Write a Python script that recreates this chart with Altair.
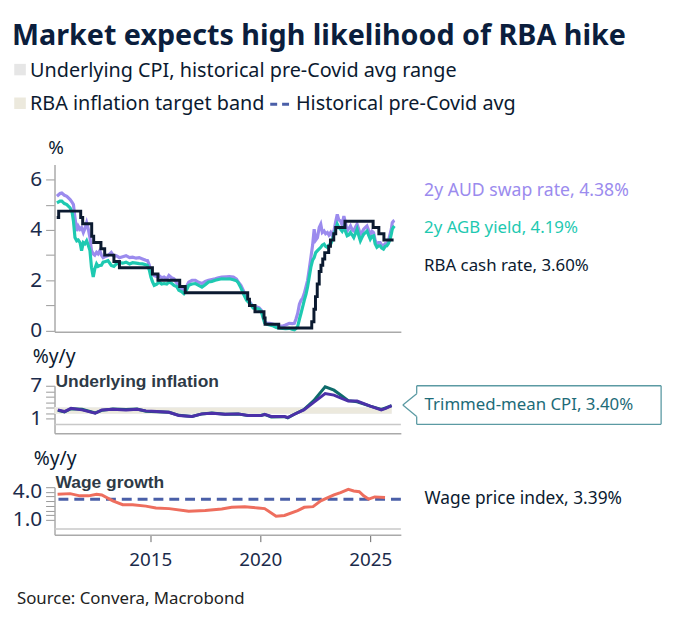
import altair as alt
import pandas as pd

FONT = "Noto Sans"
BOLD = "Liberation Sans"

TITLE = "Market expects high likelihood of RBA hike"
LEGEND_1 = "Underlying CPI, historical pre-Covid avg range"
LEGEND_2 = "RBA inflation target band"
LEGEND_3 = "Historical pre-Covid avg"
SOURCE = "Source: Convera, Macrobond"

X_DOMAIN = [2010.65, 2026.39]
X_TICKS = [2015, 2020, 2025]

# ---- top panel: rates (%) ----
rate_years = [2010.76, 2010.90, 2010.98, 2011.10, 2011.21, 2011.36, 2011.45, 2011.51, 2011.58, 2011.66,
              2011.73, 2011.81, 2011.88, 2011.96, 2012.03, 2012.11, 2012.18, 2012.26, 2012.33, 2012.41,
              2012.48, 2012.56, 2012.63, 2012.71, 2012.78, 2012.86, 2012.97, 2013.08, 2013.23, 2013.35,
              2013.46, 2013.60, 2013.75, 2013.90, 2014.06, 2014.20, 2014.36, 2014.50, 2014.65, 2014.80,
              2014.88, 2014.96, 2015.03, 2015.10, 2015.18, 2015.30, 2015.40, 2015.52, 2015.63, 2015.75,
              2015.85, 2015.97, 2016.08, 2016.20, 2016.30, 2016.42, 2016.53, 2016.65, 2016.75, 2016.90,
              2017.05, 2017.20, 2017.35, 2017.50, 2017.65, 2017.80, 2017.95, 2018.10, 2018.25, 2018.45,
              2018.60, 2018.78, 2018.92, 2019.00, 2019.12, 2019.23, 2019.38, 2019.53, 2019.68, 2019.83,
              2019.95, 2020.05, 2020.20, 2020.30, 2020.43, 2020.60, 2020.73, 2020.90, 2021.03, 2021.15,
              2021.32, 2021.45, 2021.55, 2021.62, 2021.70, 2021.78, 2021.85, 2021.93, 2022.00, 2022.08,
              2022.15, 2022.22, 2022.30, 2022.38, 2022.45, 2022.52, 2022.60, 2022.68, 2022.75, 2022.82,
              2022.90, 2022.97, 2023.05, 2023.12, 2023.20, 2023.28, 2023.35, 2023.42, 2023.50, 2023.57,
              2023.65, 2023.72, 2023.80, 2023.87, 2023.95, 2024.02, 2024.10, 2024.18, 2024.25, 2024.32,
              2024.40, 2024.47, 2024.55, 2024.62, 2024.70, 2024.78, 2024.85, 2024.92, 2025.00, 2025.08,
              2025.15, 2025.22, 2025.30, 2025.38, 2025.45, 2025.52, 2025.60, 2025.68, 2025.75, 2025.82,
              2025.90, 2025.96, 2026.00, 2026.06, 2026.10]
swap_2y = [5.34, 5.45, 5.47, 5.38, 5.34, 5.21, 5.10, 5.01, 4.49, 3.96,
           4.15, 4.03, 4.10, 3.90, 4.05, 4.29, 4.05, 3.70, 3.18, 3.05,
           3.00, 3.11, 3.05, 3.18, 3.00, 2.90, 2.95, 2.98, 3.11, 2.95,
           2.98, 2.90, 2.94, 2.98, 2.90, 2.92, 2.88, 2.90, 2.85, 2.80,
           2.78, 2.60, 2.32, 2.25, 2.19, 2.15, 2.19, 2.10, 2.13, 2.05,
           2.19, 2.10, 2.06, 1.90, 1.73, 1.65, 1.58, 1.75, 1.93, 2.00,
           2.00, 1.92, 1.87, 1.95, 2.00, 2.03, 2.06, 2.10, 2.13, 2.14,
           2.15, 2.13, 2.05, 1.93, 1.80, 1.60, 1.27, 1.14, 0.94, 0.94,
           0.90, 0.81, 0.35, 0.30, 0.29, 0.25, 0.22, 0.18, 0.18, 0.22,
           0.29, 0.28, 0.29, 0.45, 0.68, 1.05, 1.20, 1.30, 1.47, 1.75,
           1.99, 2.40, 2.90, 3.40, 4.03, 3.60, 3.70, 4.10, 4.23, 3.90,
           3.96, 3.85, 3.90, 3.80, 3.90, 3.75, 3.96, 4.30, 4.62, 4.40,
           4.36, 4.20, 4.55, 4.30, 3.96, 4.05, 4.16, 4.00, 3.96, 4.10,
           4.23, 4.05, 3.83, 3.90, 4.03, 4.10, 4.16, 4.00, 3.83, 3.95,
           3.90, 3.60, 3.44, 3.50, 3.50, 3.40, 3.37, 3.45, 3.44, 3.55,
           3.83, 4.05, 4.29, 4.36, 4.38]
agb_2y = [5.08, 5.15, 5.15, 5.05, 5.01, 4.88, 4.70, 4.36, 3.70, 3.57,
          3.60, 3.50, 3.18, 3.50, 3.45, 3.57, 3.40, 3.18, 2.52, 2.13,
          2.45, 2.65, 2.55, 2.59, 2.60, 2.72, 2.75, 2.78, 2.59, 2.55,
          2.65, 2.70, 2.68, 2.72, 2.65, 2.70, 2.68, 2.66, 2.65, 2.62,
          2.59, 2.40, 2.13, 1.95, 1.80, 1.85, 1.93, 1.85, 1.87, 1.85,
          1.93, 1.88, 1.80, 1.75, 1.60, 1.55, 1.47, 1.62, 1.80, 1.85,
          1.87, 1.80, 1.73, 1.82, 1.93, 1.95, 2.00, 2.03, 2.06, 2.05,
          2.06, 2.02, 1.98, 1.90, 1.70, 1.47, 1.20, 1.07, 0.90, 0.88,
          0.85, 0.75, 0.30, 0.25, 0.22, 0.18, 0.12, 0.10, 0.09, 0.08,
          0.09, 0.05, 0.03, 0.08, 0.16, 0.45, 0.68, 0.95, 1.20, 1.45,
          1.73, 2.10, 2.52, 2.80, 2.90, 3.10, 3.18, 3.25, 3.31, 3.40,
          3.44, 3.35, 3.31, 3.40, 3.44, 3.60, 3.83, 4.00, 4.23, 4.10,
          4.03, 3.95, 4.10, 3.95, 3.77, 3.80, 3.90, 3.80, 3.70, 3.85,
          4.03, 3.80, 3.57, 3.70, 3.83, 3.90, 3.96, 3.80, 3.63, 3.75,
          3.77, 3.45, 3.31, 3.37, 3.37, 3.28, 3.24, 3.35, 3.37, 3.45,
          3.63, 3.85, 4.03, 4.12, 4.16]

cash_years = [2010.75, 2010.84, 2011.84, 2011.93, 2012.34, 2012.43, 2012.76, 2012.93, 2013.35, 2013.60,
              2015.10, 2015.35, 2016.34, 2016.59, 2019.43, 2019.51, 2019.76, 2020.17, 2020.22, 2020.84,
              2022.34, 2022.44, 2022.51, 2022.59, 2022.68, 2022.76, 2022.84, 2022.93, 2023.11, 2023.19,
              2023.34, 2023.43, 2023.85, 2025.13, 2025.39, 2025.62, 2026.06]
cash_rate = [4.50, 4.75, 4.50, 4.25, 3.75, 3.50, 3.25, 3.00, 2.75, 2.50,
             2.25, 2.00, 1.75, 1.50, 1.25, 1.00, 0.75, 0.50, 0.25, 0.10,
             0.35, 0.85, 1.35, 1.85, 2.35, 2.60, 2.85, 3.10, 3.35, 3.60,
             3.85, 4.10, 4.35, 4.10, 3.85, 3.60, 3.60]

# ---- middle panel: underlying inflation (%y/y) ----
cpi_years = [2010.80, 2011.10, 2011.40, 2011.90, 2012.50, 2012.80, 2013.30, 2013.90, 2014.40, 2014.80,
             2015.30, 2015.85, 2016.30, 2016.90, 2017.35, 2017.80, 2018.40, 2019.00, 2019.45, 2020.05,
             2020.20, 2020.50, 2021.10, 2021.25, 2021.55, 2021.98, 2022.43, 2022.95, 2023.35, 2023.70,
             2024.00, 2024.40, 2025.00, 2025.50, 2025.70, 2025.97]
weighted_median = [2.63, 2.33, 2.92, 2.63, 2.02, 2.63, 2.74, 2.63, 2.74, 2.45,
                   2.35, 2.20, 1.61, 1.43, 1.91, 2.02, 1.84, 1.91, 1.61, 1.61,
                   1.84, 1.43, 1.43, 1.25, 1.84, 2.63, 4.00, 5.60, 5.31, 4.70,
                   4.24, 4.24, 3.30, 2.63, 2.92, 3.40]
trimmed_mean = [2.55, 2.25, 2.85, 2.75, 2.10, 2.55, 2.80, 2.70, 2.80, 2.40,
                2.30, 2.20, 1.65, 1.45, 1.90, 2.05, 1.85, 1.90, 1.60, 1.65,
                1.80, 1.35, 1.40, 1.20, 1.85, 2.70, 4.30, 6.80, 6.20, 5.20,
                4.30, 4.10, 3.30, 2.70, 3.00, 3.40]
TARGET_LO, TARGET_HI = 2.0, 3.0
PRECOVID_LO, PRECOVID_HI = 1.9, 3.15

# ---- bottom panel: wage growth (%y/y) ----
wage_years = [2010.79, 2011.36, 2011.80, 2012.20, 2012.56, 2012.80, 2013.30, 2013.75, 2014.20, 2014.80,
              2015.26, 2015.86, 2016.75, 2017.50, 2018.25, 2018.70, 2019.30, 2019.90, 2020.20, 2020.72,
              2021.10, 2021.70, 2022.00, 2022.40, 2022.75, 2023.35, 2023.65, 2024.00, 2024.25, 2024.50,
              2024.70, 2024.93, 2025.20, 2025.67]
wage_price_index = [3.74, 3.81, 3.57, 3.57, 3.74, 3.67, 3.04, 2.62, 2.62, 2.47,
                    2.26, 2.20, 1.92, 1.99, 2.16, 2.34, 2.41, 2.26, 2.20, 1.39,
                    1.46, 1.99, 2.34, 2.41, 3.04, 3.67, 3.92, 4.26, 4.09, 4.02,
                    3.57, 3.21, 3.46, 3.39]
WAGE_PRECOVID_AVG = 3.21

# ---- styling ----
SWAP_C = "#9B8BEE"
AGB_C = "#1EC9B1"
CASH_C = "#0B1A30"
TM_C = "#0E6B6B"
WM_C = "#4B30A8"
WAGE_C = "#EE6E5E"
DASH_C = "#4A5FA8"
AXIS_C = "#AAAAAA"
LABEL_C = "#1B2B4B"
W = 350

one = pd.DataFrame({"k": [0]})


def txt(text, x, y, size=17, color="#0B1A30", weight="normal", font=FONT, align="left", baseline="middle"):
    return alt.Chart(pd.DataFrame({"t": [text]})).mark_text(
        align=align, baseline=baseline, fontSize=size, color=color, fontWeight=weight, font=font
    ).encode(x=alt.value(x), y=alt.value(y), text="t:N")


def seg(x1, y1, x2, y2, color, width=1.0, dash=None):
    kw = dict(color=color, strokeWidth=width)
    if dash:
        kw["strokeDash"] = dash
    return alt.Chart(one).mark_rule(**kw).encode(
        x=alt.value(x1), y=alt.value(y1), x2=alt.value(x2), y2=alt.value(y2))


def box(x1, y1, x2, y2, color):
    return alt.Chart(one).mark_rect(color=color).encode(
        x=alt.value(x1), y=alt.value(y1), x2=alt.value(x2), y2=alt.value(y2))


x_hidden = alt.Axis(labels=False, ticks=False, grid=False, title=None, domainColor=AXIS_C, domainWidth=1.5)
x_shown = alt.Axis(values=X_TICKS, format="d", grid=False, title=None, domainColor=AXIS_C, domainWidth=1.5,
                   tickColor="#666666", tickSize=7, labelFontSize=19, labelColor=LABEL_C, labelFont=FONT,
                   labelPadding=9)
xscale = alt.Scale(domain=X_DOMAIN, nice=False, zero=False)


def yaxis(values, expr, fmt=None):
    kw = dict(values=values, labelExpr=expr, grid=False, title=None, tickSize=9, tickColor="#999999",
              domainColor=AXIS_C, domainWidth=1.5, labelFontSize=21, labelColor=LABEL_C, labelFont=FONT,
              labelPadding=4, labelOverlap=False)
    if fmt:
        kw["format"] = fmt
    return alt.Axis(**kw)


# ---- top panel ----
rates = pd.DataFrame({"year": rate_years, "swap": swap_2y, "agb": agb_2y})
cash = pd.DataFrame({"year": cash_years, "rate": cash_rate})
ytop = alt.Scale(domain=[-0.05, 6.6], nice=False, zero=False)
yax_top = yaxis([0, 1, 2, 3, 4, 5, 6], "datum.value % 2 == 0 ? datum.label : ''")

top = alt.layer(
    alt.Chart(one).mark_point(size=1, opacity=0).encode(x=alt.value(-46), y=alt.value(-154)),
    txt(TITLE, -43, -121, size=29, weight="bold", baseline="alphabetic", color="#0B1E3D"),
    box(-40.7, -101.8, -29, -90.2, "#E6E6E6"),
    txt(LEGEND_1, -24.7, -95, size=20),
    box(-40.7, -67.8, -29, -56.2, "#ECE9DD"),
    txt(LEGEND_2, -24.7, -61, size=20),
    seg(218, -61, 238, -61, DASH_C, 3, [7, 5]),
    txt(LEGEND_3, 244, -61, size=20),
    txt("%", 1.5, -16.5, size=19, align="center"),
    alt.Chart(rates).mark_line(color=SWAP_C, strokeWidth=3.2).encode(
        x=alt.X("year:Q", scale=xscale, axis=x_hidden),
        y=alt.Y("swap:Q", scale=ytop, axis=yax_top)),
    alt.Chart(rates).mark_line(color=AGB_C, strokeWidth=3.2).encode(
        x=alt.X("year:Q", scale=xscale, axis=x_hidden),
        y=alt.Y("agb:Q", scale=ytop, axis=yax_top)),
    alt.Chart(cash).mark_line(color=CASH_C, strokeWidth=3, interpolate="step-after").encode(
        x=alt.X("year:Q", scale=xscale, axis=x_hidden),
        y=alt.Y("rate:Q", scale=ytop, axis=yax_top)),
    txt("2y AUD swap rate, 4.38%", 373.5, 26.5, size=17.8, color=SWAP_C),
    txt("2y AGB yield, 4.19%", 373.5, 64.5, color=AGB_C),
    txt("RBA cash rate, 3.60%", 373.5, 103, color=CASH_C),
).properties(width=W, height=169)

# ---- middle panel ----
cpi = pd.DataFrame({"year": cpi_years, "wm": weighted_median, "tm": trimmed_mean})
ymid = alt.Scale(domain=[-1.6, 7], nice=False, zero=False)
yax_mid = yaxis([1, 2, 3, 4, 5, 6, 7], "datum.value == 1 || datum.value == 7 ? datum.label : ''")
x_start = cpi_years[0] - 0.15
x_end = cpi_years[-1]

mid = alt.layer(
    alt.Chart(one).mark_rect(color="#EEEEEE").encode(
        x=alt.X("a:Q", scale=xscale, axis=x_hidden), x2="b:Q",
        y=alt.Y("c:Q", scale=ymid, axis=yax_mid), y2="d:Q"
    ).transform_calculate(a=str(x_start), b=str(x_end), c=str(PRECOVID_LO), d=str(PRECOVID_HI)),
    alt.Chart(one).mark_rect(color="#ECE9DD").encode(
        x=alt.X("a:Q", scale=xscale, axis=x_hidden), x2="b:Q",
        y=alt.Y("c:Q", scale=ymid, axis=yax_mid), y2="d:Q"
    ).transform_calculate(a=str(x_start), b=str(x_end), c=str(TARGET_LO), d=str(TARGET_HI)),
    alt.Chart(one).mark_rule(color="#C8C8C8", strokeWidth=1.5).encode(
        y=alt.YDatum(0, scale=ymid, axis=yax_mid)),
    alt.Chart(cpi).mark_line(color=TM_C, strokeWidth=3).encode(
        x=alt.X("year:Q", scale=xscale, axis=x_hidden),
        y=alt.Y("tm:Q", scale=ymid, axis=yax_mid)),
    alt.Chart(cpi).mark_line(color=WM_C, strokeWidth=3).encode(
        x=alt.X("year:Q", scale=xscale, axis=x_hidden),
        y=alt.Y("wm:Q", scale=ymid, axis=yax_mid)),
    txt("%y/y", -22, -29, size=19.5),
    txt("Underlying inflation", 1, 1, size=17.6, weight="bold", font=BOLD, color="#2E3A46", baseline="alphabetic"),
    # callout box
    seg(366, 0, 613, 0, "#5B9AA3", 1.3),
    seg(366, 39, 613, 39, "#5B9AA3", 1.3),
    seg(613, 0, 613, 39, "#5B9AA3", 1.3),
    seg(366, 0, 366, 8, "#5B9AA3", 1.3),
    seg(366, 31, 366, 39, "#5B9AA3", 1.3),
    seg(366, 8, 352, 19.5, "#5B9AA3", 1.3),
    seg(352, 19.5, 366, 31, "#5B9AA3", 1.3),
    txt("Trimmed-mean CPI, 3.40%", 374, 19.5, color="#1D6B78"),
).properties(width=W, height=48)

# ---- bottom panel ----
wage = pd.DataFrame({"year": wage_years, "wpi": wage_price_index})
ybot = alt.Scale(domain=[-0.6, 4.5], nice=False, zero=False)
yax_bot = yaxis([1.0, 1.5, 2.0, 2.5, 3.0, 3.5, 4.0, 4.5],
                "abs(datum.value - 1) < 0.01 || abs(datum.value - 4) < 0.01 ? datum.label : ''", fmt=".1f")

bot = alt.layer(
    alt.Chart(one).mark_rule(color="#C8C8C8", strokeWidth=1.5).encode(
        y=alt.YDatum(0, scale=ybot, axis=yax_bot)),
    alt.Chart(one).mark_rule(color=DASH_C, strokeWidth=3, strokeDash=[10, 6]).encode(
        y=alt.YDatum(WAGE_PRECOVID_AVG, scale=ybot, axis=yax_bot)),
    alt.Chart(wage).mark_line(color=WAGE_C, strokeWidth=3).encode(
        x=alt.X("year:Q", scale=xscale, axis=x_shown),
        y=alt.Y("wpi:Q", scale=ybot, axis=yax_bot)),
    txt("%y/y", -21, -28, size=19.5),
    txt("Wage growth", 1, 1, size=17.6, weight="bold", font=BOLD, color="#2E3A46", baseline="alphabetic"),
    txt("Wage price index, 3.39%", 374, 12, size=17.5, color=CASH_C),
    txt(SOURCE, -38, 113, size=17, color="#222222"),
).properties(width=W, height=48)

chart = alt.vconcat(top, mid, bot, spacing=54.5, bounds="flush").properties(
    padding={"left": 0, "top": 0, "right": 10, "bottom": 14}, background="white"
).configure_view(stroke=None).configure_axis(labelOverlap=False)

chart.save("out.html", embed_options={"renderer": "svg", "actions": False})
